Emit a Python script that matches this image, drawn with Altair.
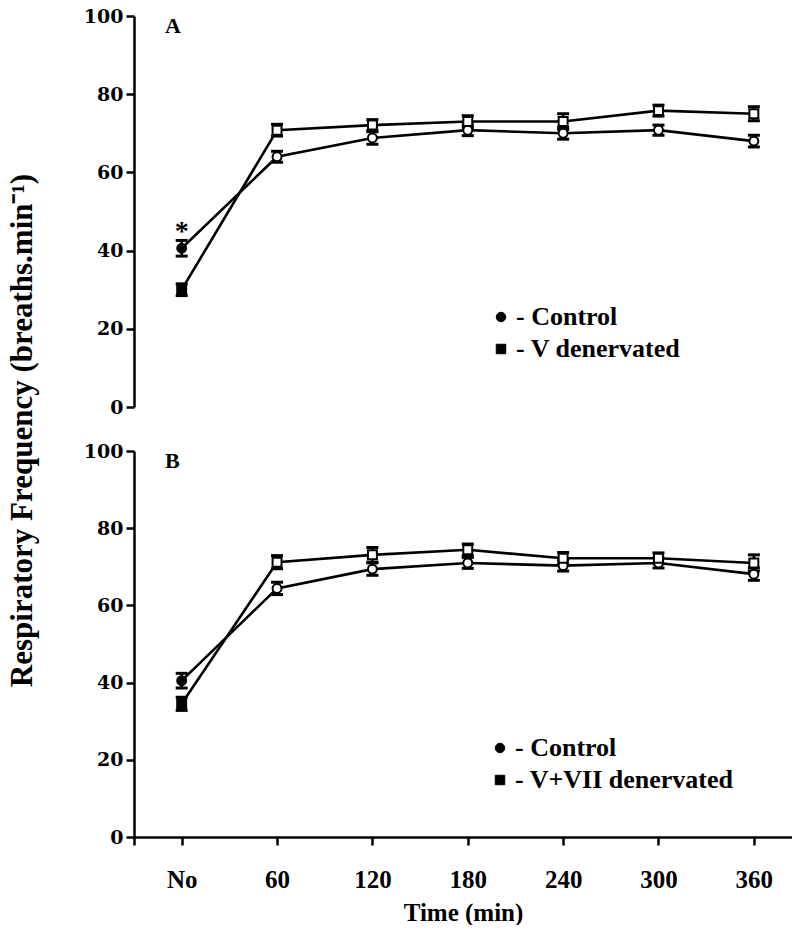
import altair as alt
import pandas as pd

# ---------------- data ----------------
times = ["No", "60", "120", "180", "240", "300", "360"]
t_vals = [0, 60, 120, 180, 240, 300, 360]
x_ticks = [-30, 0, 60, 120, 180, 240, 300, 360]
y_ticks = [0, 20, 40, 60, 80, 100]

groups_a = ["Control", "V denervated"]
groups_b = ["Control", "V+VII denervated"]

ctrl_a = [40.6, 64.0, 68.8, 70.8, 70.0, 70.8, 68.0]
ctrl_a_err = [2.0, 1.4, 1.6, 1.4, 1.5, 1.3, 1.5]
den_a = [30.0, 70.8, 72.1, 73.0, 73.0, 75.8, 75.0]
den_a_err = [1.5, 1.5, 1.4, 1.5, 2.0, 1.4, 1.8]

ctrl_b = [40.5, 64.4, 69.4, 71.0, 70.3, 71.0, 68.1]
ctrl_b_err = [1.9, 1.6, 1.6, 1.4, 1.4, 1.3, 1.6]
den_b = [34.5, 71.2, 73.1, 74.4, 72.2, 72.2, 71.0]
den_b_err = [1.7, 1.7, 1.9, 1.5, 1.5, 1.4, 2.1]

star_text = ["*"]

SERIF = "Liberation Serif"
NUMF = "DejaVu Serif"


def make_df(groups, ctrl, ctrl_err, den, den_err):
    rows = []
    for g, vals, errs in [(groups[0], ctrl, ctrl_err), (groups[1], den, den_err)]:
        for t, lab, v, e in zip(t_vals, times, vals, errs):
            rows.append(dict(group=g, t=t, lab=lab, y=v, lo=v - e, hi=v + e,
                             fillc="black" if lab == "No" else "white"))
    return pd.DataFrame(rows)


df_a = make_df(groups_a, ctrl_a, ctrl_a_err, den_a, den_a_err)
df_b = make_df(groups_b, ctrl_b, ctrl_b_err, den_b, den_b_err)
star_df = pd.DataFrame({"t": [t_vals[0]], "y": [ctrl_a[0] + ctrl_a_err[0]], "text": star_text})


def panel(df, groups, letter, height, show_x, y_title, legend_xy, star=None):
    if show_x:
        x_axis = alt.Axis(values=x_ticks,
                          labelExpr="datum.value == 0 ? 'No' : (datum.value < 0 ? '' : datum.label)",
                          title="Time (min)", grid=False, domainColor="black", domainWidth=2.5,
                          tickColor="black", tickWidth=2.5, tickSize=8, labelFont=SERIF,
                          labelFontSize=25, labelFontWeight="bold", labelColor="black",
                          labelPadding=22, titleFont=SERIF, titleFontSize=25,
                          titleFontWeight="bold", titleColor="black", titlePadding=8)
    else:
        x_axis = None
    xs = alt.Scale(domain=[-30, 384], nice=False, zero=False)
    ys = alt.Scale(domain=[0, 100], nice=False)

    common = dict(values=y_ticks, grid=False, domainColor="black", domainWidth=2.5,
                  tickColor="black", tickWidth=2.5, tickSize=8, labelFont=NUMF,
                  labelFontSize=19, labelFontWeight="bold", labelColor="black",
                  labelPadding=3)
    if y_title:
        y_axis = alt.Axis(title=y_title, titleFont=SERIF, titleFontSize=31,
                          titleFontWeight="bold", titleColor="black", titleAngle=270,
                          titleX=-112, titleY=414, titleAlign="center",
                          titleBaseline="middle", **common)
    else:
        y_axis = alt.Axis(title=None, **common)

    X = alt.X("t:Q", scale=xs, axis=x_axis)
    base = alt.Chart(df)
    line = base.mark_line(color="black", strokeWidth=2.6).encode(
        x=X, y=alt.Y("y:Q", scale=ys, axis=y_axis), detail="group:N")
    bars = base.mark_rule(color="black", strokeWidth=2.5, opacity=1).encode(
        x=X, y=alt.Y("lo:Q", scale=ys, axis=y_axis), y2="hi:Q")
    cap_lo = base.mark_tick(orient="horizontal", color="black", size=12, thickness=3,
                            opacity=1).encode(x=X, y=alt.Y("lo:Q", scale=ys, axis=y_axis))
    cap_hi = base.mark_tick(orient="horizontal", color="black", size=12, thickness=3,
                            opacity=1).encode(x=X, y=alt.Y("hi:Q", scale=ys, axis=y_axis))
    pts = base.mark_point(filled=True, stroke="black", strokeWidth=2, opacity=1, size=80).encode(
        x=X, y=alt.Y("y:Q", scale=ys, axis=y_axis),
        fill=alt.Fill("fillc:N", scale=None),
        shape=alt.Shape("group:N", sort=groups,
                        scale=alt.Scale(domain=groups, range=["circle", "square"]),
                        legend=alt.Legend(title=None, orient="none", legendX=legend_xy[0],
                                          legendY=legend_xy[1], labelFont=SERIF,
                                          labelFontSize=26, labelFontWeight="bold",
                                          labelColor="black", labelLimit=0,
                                          labelExpr="'- ' + datum.label",
                                          symbolFillColor="black", symbolStrokeColor="black",
                                          symbolSize=90, symbolStrokeWidth=1, rowPadding=6,
                                          labelOffset=2, padding=0,
                                          symbolOpacity=1)))
    layers = [line, bars, cap_lo, cap_hi, pts]
    if star is not None:
        st = alt.Chart(star).mark_text(font=SERIF, fontSize=28, fontWeight="bold",
                                       color="black", baseline="alphabetic", dy=0).encode(
            x=X, y=alt.Y("y:Q", scale=ys, axis=y_axis), text="text:N")
        layers.append(st)
    return alt.layer(*layers).properties(
        width=658, height=height,
        title=alt.TitleParams(letter, anchor="start", orient="top", frame="group", offset=0,
                              dx=31, dy=31, font=SERIF, fontSize=22, fontWeight="bold",
                              color="black"))


pa = panel(df_a, groups_a, "A", 391, False, "Respiratory Frequency (breaths.min⁻¹)",
           (354, 288), star=star_df)
pb = panel(df_b, groups_b, "B", 386, True, None, (353, 284))

chart = alt.vconcat(pa, pb, spacing=44, bounds="flush").resolve_scale(
    shape="independent").resolve_legend(shape="independent").properties(
    padding={"left": 6, "top": 7, "right": 0, "bottom": 0},
    background="white").configure_view(stroke=None)

chart.save("out.html", embed_options={"renderer": "svg", "actions": False})
